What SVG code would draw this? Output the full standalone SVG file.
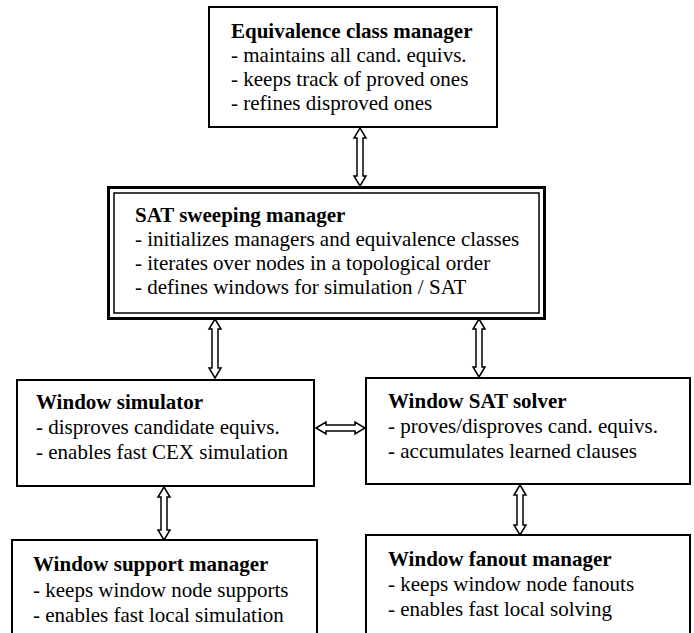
<svg xmlns="http://www.w3.org/2000/svg" width="694" height="633" viewBox="0 0 694 633">
<style>
.box{fill:#fff;stroke:#000;stroke-width:2}
.t{font-family:"Liberation Serif","Times New Roman",serif;font-size:21px;fill:#000}
.b{font-weight:bold}
.arr{fill:#fff;stroke:#000;stroke-width:1.5;stroke-linejoin:miter}
</style>
<rect width="694" height="633" fill="#fff"/>
<g id="connectors">
<polygon class="arr" points="360,128 366,138 363,138 363,176 366,176 360,186 354,176 357,176 357,138 354,138"/>
<polygon class="arr" points="215,319 221,329 218,329 218,368 221,368 215,378 209,368 212,368 212,329 209,329"/>
<polygon class="arr" points="479,319 485,329 482,329 482,367 485,367 479,377 473,367 476,367 476,329 473,329"/>
<polygon class="arr" points="316,428 326,422 326,425 355,425 355,422 365,428 355,434 355,431 326,431 326,434"/>
<polygon class="arr" points="164,487 170,497 167,497 167,530 170,530 164,540 158,530 161,530 161,497 158,497"/>
<polygon class="arr" points="520,485 526,495 523,495 523,525 526,525 520,535 514,525 517,525 517,495 514,495"/>
</g>
<g id="equiv">
<rect class="box" x="209" y="7" width="288" height="120"/>
<text class="t b" x="231" y="38">Equivalence class manager</text>
<text class="t" x="231" y="62">- maintains all cand. equivs.</text>
<text class="t" x="231" y="86">- keeps track of proved ones</text>
<text class="t" x="231" y="110">- refines disproved ones</text>
</g>
<g id="sweep">
<rect x="108.5" y="187.5" width="436" height="131" fill="#fff" stroke="#000" stroke-width="3"/>
<rect x="114" y="193" width="425" height="120" fill="none" stroke="#000" stroke-width="1.5"/>
<text class="t b" x="135" y="222">SAT sweeping manager</text>
<text class="t" x="135" y="246">- initializes managers and equivalence classes</text>
<text class="t" x="135" y="270">- iterates over nodes in a topological order</text>
<text class="t" x="135" y="294">- defines windows for simulation / SAT</text>
</g>
<g id="simulator">
<rect class="box" x="17" y="380" width="297" height="106"/>
<text class="t b" x="36" y="409">Window simulator</text>
<text class="t" x="36" y="434">- disproves candidate equivs.</text>
<text class="t" x="36" y="459">- enables fast CEX simulation</text>
</g>
<g id="satsolver">
<rect class="box" x="366" y="378" width="324" height="106"/>
<text class="t b" x="388" y="408">Window SAT solver</text>
<text class="t" x="388" y="433">- proves/disproves cand. equivs.</text>
<text class="t" x="388" y="458">- accumulates learned clauses</text>
</g>
<g id="support">
<rect class="box" x="12" y="540" width="305" height="100"/>
<text class="t b" x="33" y="571">Window support manager</text>
<text class="t" x="33" y="597">- keeps window node supports</text>
<text class="t" x="33" y="622">- enables fast local simulation</text>
</g>
<g id="fanout">
<rect class="box" x="366" y="535" width="324" height="105"/>
<text class="t b" x="388" y="566">Window fanout manager</text>
<text class="t" x="388" y="591">- keeps window node fanouts</text>
<text class="t" x="388" y="616">- enables fast local solving</text>
</g>
</svg>
